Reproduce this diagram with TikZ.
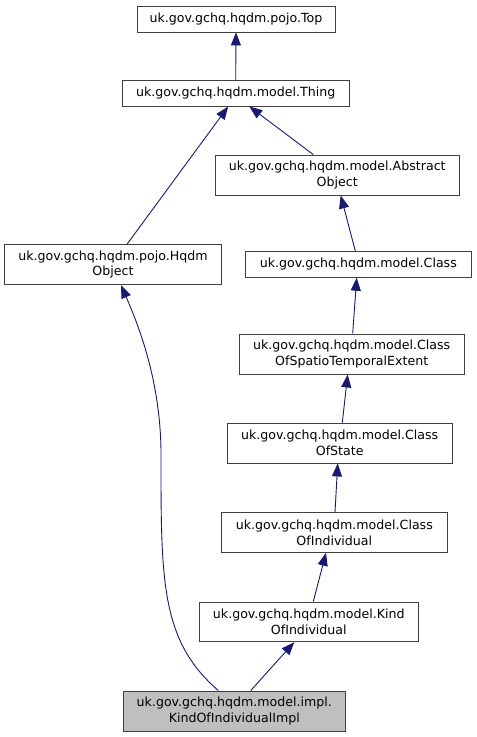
\documentclass[tikz,border=0pt]{standalone}
\usepackage{fontspec}
\setmainfont{DejaVu Sans}
\usetikzlibrary{arrows.meta}
\definecolor{edgeblue}{HTML}{191970}
\tikzset{
  box/.style={draw=black!75, fill=white, line width=0.9pt, inner sep=0pt, align=center,
    font=\fontsize{12.6}{15.7}\selectfont},
  implbox/.style={box, fill=black!25},
  inh/.style={draw=edgeblue, line width=0.9pt, -{Triangle[length=13pt,width=10pt,fill=edgeblue]}}
}
\begin{document}
\begin{tikzpicture}[x=1pt,y=-1pt]
\useasboundingbox (0,0) rectangle (477,737);
\node[box, minimum width=198pt, minimum height=26pt] (top) at (236,19) {uk.gov.gchq.hqdm.pojo.Top};
\node[box, minimum width=226.7pt, minimum height=25.7pt] (thing) at (235.7,93.2) {uk.gov.gchq.hqdm.model.Thing};
\node[box, minimum width=244.3pt, minimum height=40pt] (ao) at (337.2,175) {uk.gov.gchq.hqdm.model.Abstract\\Object};
\node[box, minimum width=216.6pt, minimum height=40.4pt] (hq) at (113,264.5) {uk.gov.gchq.hqdm.pojo.Hqdm\\Object};
\node[box, minimum width=225.3pt, minimum height=26pt] (cls) at (358.3,264.3) {uk.gov.gchq.hqdm.model.Class};
\node[box, minimum width=225.3pt, minimum height=40pt] (coste) at (351.7,354) {uk.gov.gchq.hqdm.model.Class\\OfSpatioTemporalExtent};
\node[box, minimum width=225.3pt, minimum height=40pt] (costate) at (339.7,443) {uk.gov.gchq.hqdm.model.Class\\OfState};
\node[box, minimum width=225.3pt, minimum height=39.6pt] (coi) at (334.3,532.5) {uk.gov.gchq.hqdm.model.Class\\OfIndividual};
\node[box, minimum width=219pt, minimum height=39.7pt] (kind) at (308.8,621.8) {uk.gov.gchq.hqdm.model.Kind\\OfIndividual};
\node[implbox, minimum width=222.7pt, minimum height=40pt] (impl) at (234.3,711) {uk.gov.gchq.hqdm.model.impl.\\KindOfIndividualImpl};

\draw[inh] (thing.north) -- (top.south);
\draw[inh] ([xshift=14.3pt]hq.north) -- ([xshift=-7.5pt]thing.south);
\draw[inh] ([xshift=-23.9pt]ao.north) -- ([xshift=13.6pt]thing.south);
\draw[inh] ([xshift=-3pt]cls.north) -- ([xshift=3.5pt]ao.south);
\draw[inh] ([xshift=1pt]coste.north) -- ([xshift=-1.6pt]cls.south);
\draw[inh] ([xshift=2.6pt]costate.north) -- ([xshift=-4pt]coste.south);
\draw[inh] ([xshift=0.7pt]coi.north) -- ([xshift=-2pt]costate.south);
\draw[inh] ([xshift=4.5pt]kind.north) -- ([xshift=-8.3pt]coi.south);
\draw[inh] ([xshift=16.4pt]impl.north) -- ([xshift=-14.5pt]kind.south);
\draw[inh] ([xshift=-16pt]impl.north) .. controls (160,640) and (161,580) .. (161,450)
  .. controls (160,390) and (145,340) .. ([xshift=8pt]hq.south);
\end{tikzpicture}
\end{document}
